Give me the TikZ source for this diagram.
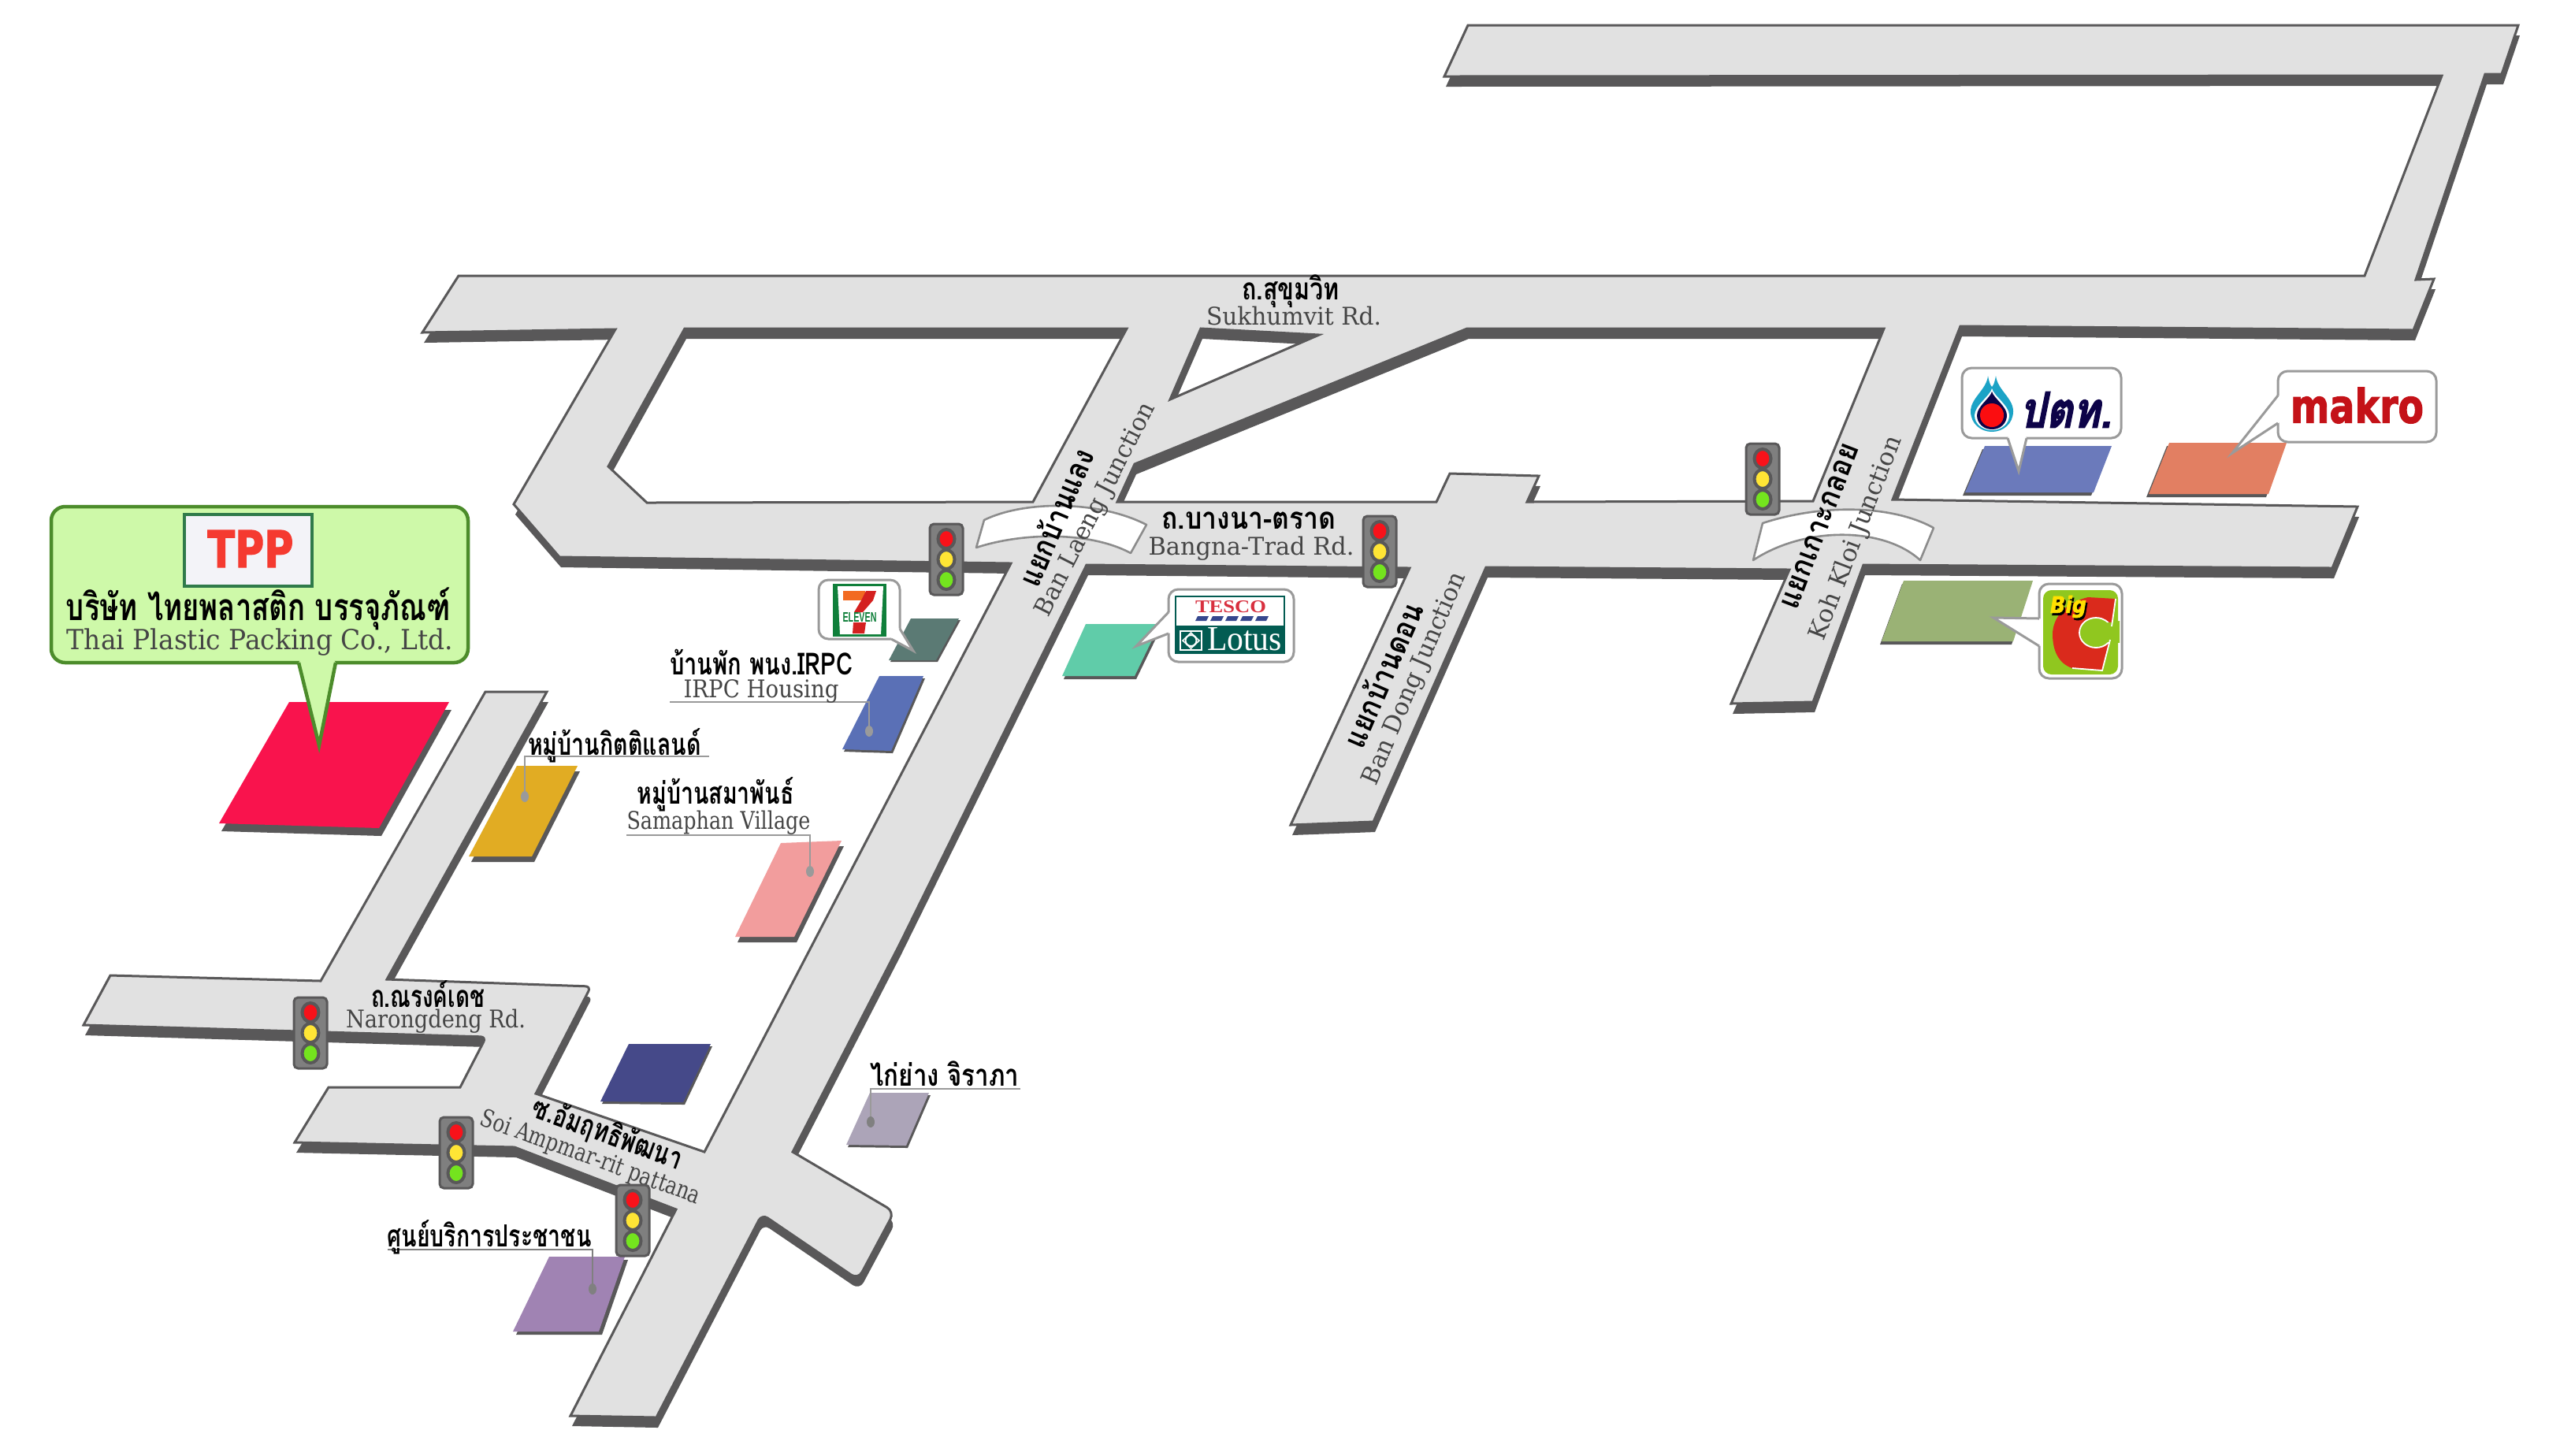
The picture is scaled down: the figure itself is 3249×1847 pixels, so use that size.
\documentclass[tikz,border=0pt]{standalone}
\usepackage{fontspec}
\usepackage{graphicx}
\setmainfont{DejaVu Serif}
\newfontfamily\thaifont[Script=Thai]{Loma}
\newfontfamily\thaiheavy[Script=Thai,BoldFeatures={FakeBold=2.5}]{Loma}
\newfontfamily\logosans{Liberation Sans}
\newfontfamily\heavysans[BoldFeatures={FakeBold=2},BoldItalicFeatures={FakeBold=2}]{DejaVu Sans}
\newfontfamily\logoserif{Liberation Serif}
\newlength\pxu \setlength\pxu{0.01cm}
\definecolor{roadc}{HTML}{E1E1E1}
\definecolor{darkc}{HTML}{595859}
\definecolor{leadc}{HTML}{9A9A9A}
\definecolor{engc}{HTML}{454545}
\definecolor{tpgreen}{HTML}{4C8C2B}
\definecolor{tpfill}{HTML}{CEF9A9}
\definecolor{tlgrey}{HTML}{7F7F7F}
\definecolor{bandg}{HTML}{8C8C8C}
\definecolor{lred}{HTML}{F8121A}
\definecolor{lyel}{HTML}{FFE535}
\definecolor{lgrn}{HTML}{74E41E}
\definecolor{tprd}{HTML}{F9134D}
\definecolor{gold}{HTML}{E1AC23}
\definecolor{pinkb}{HTML}{F29D9D}
\definecolor{irpcb}{HTML}{5A70B6}
\definecolor{sevb}{HTML}{5B7A74}
\definecolor{lotb}{HTML}{60CCA9}
\definecolor{pttb}{HTML}{6B7ABB}
\definecolor{makb}{HTML}{E27F62}
\definecolor{bigb}{HTML}{9AB275}
\definecolor{navyb}{HTML}{454989}
\definecolor{kaib}{HTML}{ACA4B8}
\definecolor{purpb}{HTML}{A083B3}
\definecolor{tplogo}{HTML}{F3F3F8}
\definecolor{tplogob}{HTML}{2F7A4A}
\definecolor{tpred}{HTML}{F53A30}
\definecolor{sevgrn}{HTML}{0F7F3A}
\definecolor{sevorg}{HTML}{F26A21}
\definecolor{sevred}{HTML}{D4201F}
\definecolor{tesg}{HTML}{035C52}
\definecolor{tesr}{HTML}{D8303F}
\definecolor{tesb}{HTML}{36478E}
\definecolor{ptttl}{HTML}{1BA3C6}
\definecolor{pttnv}{HTML}{0D0348}
\definecolor{pttrd}{HTML}{FB0D10}
\definecolor{makr}{HTML}{C41218}
\definecolor{bcgrn}{HTML}{90C71F}
\definecolor{bcred}{HTML}{DA2A1C}
\definecolor{bcyel}{HTML}{FFE000}
\tikzset{
  thaiL/.style={font=\thaifont\bfseries\fontsize{11}{11}\selectfont,text=black,inner sep=0pt},
  engL/.style={font=\fontsize{8.8}{10}\selectfont,text=engc,inner sep=0pt},
  engR/.style={font=\fontsize{8.8}{10}\selectfont,text=engc,inner sep=0pt},
  leader/.style={draw=leadc,line width=2.2\pxu},
  bubble/.style={draw=leadc,fill=white,line width=3\pxu,rounded corners=3.5pt},
  tpbubble/.style={draw=tpgreen,fill=tpfill,line width=4.5\pxu,rounded corners=5pt},
  tlbox/.style={draw=darkc,fill=tlgrey,line width=3\pxu,rounded corners=1.5pt,minimum width=42\pxu,minimum height=90\pxu,inner sep=0pt},
  lamp/.style={draw=darkc,line width=4\pxu},
  bandst/.style={draw=bandg,fill=white,line width=2.6\pxu,line join=round},
}
\newcommand{\tw}[2]{\resizebox{#1\pxu}{\height}{#2}}
\newcommand{\wh}[3]{\resizebox{#1\pxu}{#2\pxu}{#3}}
\newcommand{\roadpath}{(582,350) -- (3001,350) -- (3099,96) -- (1833,97) -- (1863,32) -- (3196,32) -- (3175,94) -- (3154,94) -- (3066,355) -- (3089,354) -- (3063,419) -- (2488,414) -- (2402,634) -- (2992,643) -- (2960,721) -- (2365,717) -- (2301,891) -- (2197,893) -- (2271,723) -- (1886,720) -- (1743,1043) -- (1638,1047) -- (1789,721) -- (1379,717) -- (1141,1200) -- (1006,1462) [rounded corners=3pt] -- (1135,1538) -- (1089,1624) [sharp corners] [rounded corners=2.5pt] -- (967,1541) [sharp corners] -- (833,1799) -- (724,1797) -- (858,1535) -- (653,1456) -- (374,1450) -- (417,1380) -- (584,1380) [rounded corners=2pt] -- (617,1316) [sharp corners] -- (106,1301) -- (140,1238) -- (407,1245) -- (616,878) -- (694,878) -- (491,1243) [rounded corners=2pt] -- (750,1252) [sharp corners] -- (680,1388) -- (894,1462) -- (1283,715) -- (710,707) -- (652,640) -- (781,418) -- (536,422) -- cycle
  (1311,637) -- (821,638) -- (772,592) -- (869,417) -- (1430,417) -- cycle
  (1524,417) -- (1674,425) -- (1485,507) -- cycle
  (1418,637) -- (1440,589) -- (1862,417) -- (2391,417) -- (2301,636) -- (1938,637) -- (1953,604) -- (1840,601) -- (1823,637) -- cycle}
% colour, shadow dx, dy, four corners
\newcommand{\building}[7]{%
  \fill[darkc,shift={(#2)}] (#3) -- (#4) -- (#5) -- (#6) -- cycle;
  \fill[#1] (#3) -- (#4) -- (#5) -- (#6) -- cycle;
  #7}
\newcommand{\tlight}[3]{%
  \begin{scope}[shift={(#2,#3)}]
    \node[tlbox] (#1) at (0,0) {};
    \draw[lamp,fill=lred] (0,-26) ellipse [x radius=10.5,y radius=12];
    \draw[lamp,fill=lyel] (0,0) ellipse [x radius=10.5,y radius=12];
    \draw[lamp,fill=lgrn] (0,26) ellipse [x radius=10.5,y radius=12];
  \end{scope}}
% style, corner1, corner2, base1, tip, base2, inner1, inner2
\newcommand{\callout}[8]{%
  \draw[#1] (#2) rectangle (#3);
  \fill[#1,draw=none,sharp corners] (#4) -- (#7) -- (#8) -- (#6) -- (#5) -- cycle;
  \draw[#1,fill=none,sharp corners] (#4) -- (#5) -- (#6);}
\newcommand{\dotlead}[2]{\fill[#1] (#2) ellipse [x radius=5,y radius=7];}
\begin{document}
\begin{tikzpicture}[x=0.01cm,y=-0.01cm]
\useasboundingbox (0,0) rectangle (3249,1847);
\fill[white] (0,0) rectangle (3249,1847);
% roads
\fill[darkc,even odd rule,shift={(2,13)}] \roadpath;
\filldraw[fill=roadc,draw=darkc,line width=3\pxu,even odd rule,line join=miter] \roadpath;
% bands
\draw[bandst] (1249,660) .. controls (1300,635) and (1395,635) .. (1455,666) -- (1435,702) .. controls (1385,675) and (1300,675) .. (1239,695) -- cycle;
\draw[bandst] (2237,664) .. controls (2310,640) and (2400,640) .. (2454,670) -- (2437,711) .. controls (2390,668) and (2290,668) .. (2225,711) -- cycle;
% buildings
\building{tprd}{3,10}{367,891}{570,891}{481,1051}{278,1045}{}
\building{gold}{3,7}{656,972}{733,972}{675,1087}{595,1087}{}
\building{pinkb}{3,7}{991,1070}{1068,1067}{1008,1189}{933,1189}{}
\building{irpcb}{2,3}{1116,858}{1172,858}{1131,953}{1069,951}{}
\building{sevb}{2,2}{1156,785}{1217,785}{1188,838}{1128,838}{}
\building{lotb}{2,4}{1378,792}{1472,792}{1440,858}{1348,858}{}
\building{pttb}{-3,4}{2519,566}{2680,566}{2657,625}{2494,625}{}
\building{makb}{-3,4}{2753,562}{2902,562}{2879,627}{2727,627}{}
\building{bigb}{-2,4}{2416,737}{2580,737}{2555,814}{2388,814}{}
\building{navyb}{2,3}{798,1325}{902,1325}{867,1399}{762,1398}{}
\building{kaib}{2,3}{1104,1387}{1179,1387}{1150,1454}{1074,1453}{}
\building{purpb}{4,4}{697,1595}{793,1595}{760,1690}{651,1690}{}
% leaders
\coordinate (kitA) at (900,960); \coordinate (kitB) at (666,960); \coordinate (kitC) at (666,1011);
\draw[leader] (kitA) -- (kitB) -- (kitC); \dotlead{leadc}{kitC}
\coordinate (samA) at (795,1060); \coordinate (samB) at (1028,1060); \coordinate (samC) at (1028,1106);
\draw[leader] (samA) -- (samB) -- (samC); \dotlead{leadc}{samC}
\coordinate (irpA) at (850,891); \coordinate (irpB) at (1103,891); \coordinate (irpC) at (1103,928);
\draw[leader] (irpA) -- (irpB) -- (irpC); \dotlead{leadc}{irpC}
\coordinate (kaiA) at (1295,1382); \coordinate (kaiB) at (1105,1382); \coordinate (kaiC) at (1105,1424);
\draw[leader] (kaiA) -- (kaiB) -- (kaiC); \fill[gray] (kaiC) ellipse [x radius=5,y radius=7];
\coordinate (cenA) at (492,1586); \coordinate (cenB) at (752,1586); \coordinate (cenC) at (752,1636);
\draw[leader,draw=gray] (cenA) -- (cenB) -- (cenC); \fill[gray] (cenC) ellipse [x radius=5,y radius=7];
% TPP callout
\callout{tpbubble}{65,643}{594,841}{379,841}{405,946}{426,841}{385,832}{420,832}
\fill[tplogo] (234,653) rectangle (396,744);
\draw[tplogob,line width=4\pxu] (234,653) rectangle (396,744);
\node[inner sep=0pt,text=tpred,font=\heavysans\bfseries] (tpplogo) at (318,696.5) {\wh{109}{47}{TPP}};
\node[thaiL,font=\thaifont\bfseries\fontsize{13.5}{13.5}\selectfont] (tppth) at (328,773) {\tw{488}{บริษัท ไทยพลาสติก บรรจุภัณฑ์}};
\node[engL,font=\fontsize{10}{11}\selectfont] (tppen) at (330,815) {\tw{490}{Thai Plastic Packing Co., Ltd.}};
% logo callouts
\callout{bubble}{1039,736}{1142,811}{1131,811}{1159,826}{1142,798}{1128,800}{1132,795}
\fill[sevgrn] (1057,741) rectangle (1125,808);
\fill[white] (1063,744) -- (1121,744) -- (1118,805) -- (1066,805) -- cycle;
\fill[sevorg] (1070,750) rectangle (1098,762);
\fill[sevred] (1099,750) -- (1112,750) -- (1108,762) -- (1095,777) -- (1084,777) -- (1093,762) -- cycle;
\fill[sevred] (1083,790) -- (1099,790) -- (1097,804) -- (1082,804) -- cycle;
\node[inner sep=0pt,text=sevgrn,font=\logosans\bfseries] (sevtxt) at (1091,783.5) {\wh{43}{12}{ELEVEN}};
\callout{bubble}{1483,748}{1642,840}{1483,777}{1442,820}{1483,804}{1492,780}{1492,800}
\fill[tesg] (1491,756) rectangle (1631,830);
\fill[white] (1493,758) rectangle (1629,794);
\node[inner sep=0pt,text=tesr,font=\logoserif\bfseries] (tesco) at (1562,770.5) {\wh{90}{15}{TESCO}};
\foreach \i in {0,...,4} {\fill[tesb] (1517+\i*19,788) -- (1531+\i*19,788) -- (1534+\i*19,782) -- (1520+\i*19,782) -- cycle;}
\node[inner sep=0pt,text=white,font=\logoserif] (lotus) at (1579.5,811.5) {\wh{95}{29}{Lotus}};
\draw[white,line width=2\pxu] (1498,801) rectangle (1525,825);
\draw[white,line width=2\pxu] (1511.5,813) circle [radius=7];
\draw[white,line width=1.5\pxu] (1511.5,803) -- (1522,813) -- (1511.5,823) -- (1501,813) -- cycle;
\callout{bubble}{2490,467}{2692,556}{2548,556}{2562,598}{2572,556}{2552,548}{2568,548}
\fill[ptttl] (2523,477) .. controls (2525,488) and (2527,490) .. (2528,491) .. controls (2529,490) and (2531,488) .. (2533,477) .. controls (2535,495) and (2555,505) .. (2555,522) .. controls (2555,538) and (2542,548) .. (2528,548) .. controls (2514,548) and (2501,538) .. (2501,522) .. controls (2501,505) and (2521,495) .. (2523,477) -- cycle;
\fill[white] (2528,493) .. controls (2530,502) and (2550,515) .. (2550,527) .. controls (2550,538) and (2540,546) .. (2528,546) .. controls (2516,546) and (2506,538) .. (2506,527) .. controls (2506,515) and (2526,502) .. (2528,493) -- cycle;
\fill[pttnv] (2528,497) .. controls (2530,505) and (2547,516) .. (2547,527) .. controls (2547,537) and (2539,545) .. (2528,545) .. controls (2517,545) and (2509,537) .. (2509,527) .. controls (2509,516) and (2526,505) .. (2528,497) -- cycle;
\fill[pttrd] (2528,527) circle [radius=15];
\node[inner sep=0pt,text=pttnv,font=\thaiheavy\bfseries,xslant=0.2,transform shape] (pttt) at (2626,520) {\wh{116}{45}{ปตท.}};
\callout{bubble}{2891,471}{3092,561}{2891,502}{2833,575}{2891,537}{2899,505}{2899,534}
\node[inner sep=0pt,text=makr,font=\heavysans\bfseries] (makro) at (2991.5,514.5) {\wh{169}{45}{makro}};
\callout{bubble}{2588,741}{2693,861}{2588,785}{2530,784}{2588,820}{2596,787}{2596,818}
\fill[bcgrn,rounded corners=3pt] (2593,749) rectangle (2688,856);
\fill[bcred] (2685,760) -- (2650,758) .. controls (2620,765) and (2605,785) .. (2605,805) .. controls (2605,825) and (2612,842) .. (2630,848) -- (2668,851) -- (2678,812) -- (2680,795) -- cycle;
\draw[white,fill=bcgrn,line width=1.8\pxu] (2660,803) ellipse [x radius=21,y radius=19];
\fill[bcgrn] (2664,792) -- (2690,788) -- (2690,816) -- (2664,814) -- cycle;
\draw[white,line width=1.8\pxu] (2685,760) -- (2680,795);
\draw[white,line width=1.8\pxu] (2678,812) -- (2668,851) -- (2630,848);
\node[inner sep=0pt,text=black,font=\heavysans\bfseries\itshape] (bigsh) at (2627,773) {\wh{46}{22}{Big}};
\node[inner sep=0pt,text=bcyel,font=\heavysans\bfseries\itshape] (bigt) at (2625,770) {\wh{46}{22}{Big}};
% road labels
\node[thaiL] (sukth) at (1638,370) {\tw{124}{ถ.สุขุมวิท}};
\node[engL] (suken) at (1642,401) {\tw{222}{Sukhumvit Rd.}};
\node[thaiL] (bangth) at (1585,661) {\tw{221}{ถ.บางนา-ตราด}};
\node[engL] (bangen) at (1588,696) {\tw{261}{Bangna-Trad Rd.}};
\node[thaiL] (narth) at (543,1262) {\tw{144}{ถ.ณรงค์เดช}};
\node[engL] (naren) at (553,1296) {\tw{228}{Narongdeng Rd.}};
\node[thaiL,rotate=-20] (soith) at (771,1439) {\tw{200}{ซ.อัมฤทธิพัฒนา}};
\node[engR,rotate=-20] (soien) at (749,1470) {\tw{295}{Soi Ampmar-rit pattana}};
\node[thaiL] (centh) at (621,1570) {\tw{259}{ศูนย์บริการประชาชน}};
\node[thaiL] (kaith) at (1199,1363) {\tw{189}{ไก่ย่าง จิราภา}};
\node[thaiL] (irpth) at (966,840) {\tw{232}{บ้านพัก พนง.IRPC}};
\node[engL] (irpen) at (966,877) {\tw{197}{IRPC Housing}};
\node[thaiL] (kitth) at (780,946) {\tw{220}{หมู่บ้านกิตติแลนด์}};
\node[thaiL] (samth) at (908,1008) {\tw{199}{หมู่บ้านสมาพันธ์}};
\node[engL] (samen) at (912,1044) {\tw{233}{Samaphan Village}};
\node[thaiL,rotate=67] (blth) at (1339,656) {\tw{185}{แยกบ้านแลง}};
\node[engR,rotate=63] (blen) at (1391,647) {\tw{300}{Ban Laeng Junction}};
\node[thaiL,rotate=66.6] (bdth) at (1754,856) {\tw{196}{แยกบ้านดอน}};
\node[engR,rotate=66.8] (bden) at (1796,862) {\tw{290}{Ban Dong Junction}};
\node[thaiL,rotate=69] (kkth) at (2310,668) {\tw{222}{แยกเกาะกลอย}};
\node[engR,rotate=69] (kken) at (2356,683) {\tw{275}{Koh Kloi Junction}};
% traffic lights
\tlight{tla}{1201}{710}
\tlight{tlb}{1751}{700}
\tlight{tlc}{2237}{608}
\tlight{tld}{394}{1311}
\tlight{tle}{579}{1463}
\tlight{tlf}{803}{1549}
\end{tikzpicture}
\end{document}
